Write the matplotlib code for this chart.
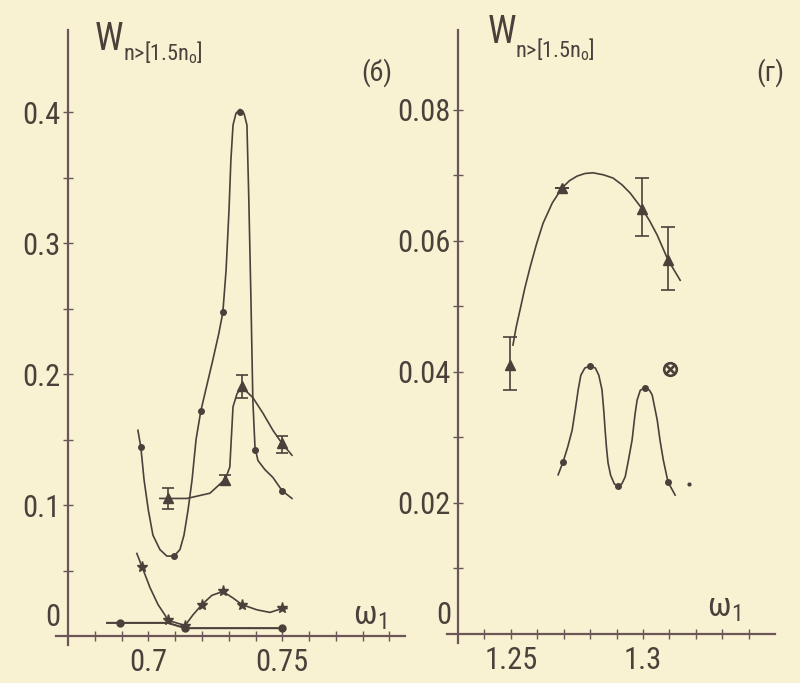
import matplotlib.pyplot as plt
import numpy as np

# panel (б): curves, omega_1 vs W
peak_w = [0.6961, 0.6972, 0.6984, 0.7000, 0.7017, 0.7043, 0.7069, 0.7096, 0.7118, 0.7133,
          0.7148, 0.7163, 0.7178, 0.7196, 0.7219, 0.7241, 0.7263, 0.7278, 0.7290, 0.7301,
          0.7308, 0.7316, 0.7327, 0.7342, 0.7357, 0.7368, 0.7375, 0.7383, 0.7390, 0.7398,
          0.7409, 0.7435, 0.7465, 0.7499, 0.7536]
peak_W = [0.157, 0.144, 0.119, 0.096, 0.077, 0.066, 0.061, 0.061, 0.066, 0.077,
          0.096, 0.119, 0.150, 0.172, 0.192, 0.211, 0.231, 0.247, 0.279, 0.325,
          0.363, 0.390, 0.399, 0.402, 0.399, 0.390, 0.333, 0.256, 0.180, 0.144,
          0.134, 0.127, 0.121, 0.111, 0.105]
peak_pts_w = [0.6972, 0.7096, 0.7196, 0.7278, 0.7342, 0.7398, 0.7499]
peak_pts_W = [0.144, 0.061, 0.172, 0.247, 0.400, 0.142, 0.111]

tri_w = [0.7043, 0.7073, 0.7144, 0.7230, 0.7278, 0.7286, 0.7304, 0.7316, 0.7331, 0.7349,
         0.7390, 0.7428, 0.7465, 0.7499, 0.7536]
tri_W = [0.105, 0.105, 0.105, 0.109, 0.118, 0.119, 0.129, 0.175, 0.185, 0.190,
         0.182, 0.170, 0.157, 0.147, 0.138]
tri_pts_w = [0.7073, 0.7286, 0.7349, 0.7499]
tri_pts_W = [0.105, 0.119, 0.191, 0.147]
tri_lo = [0.097, 0.115, 0.182, 0.140]
tri_hi = [0.113, 0.123, 0.199, 0.153]

star_w = [0.6957, 0.6976, 0.7006, 0.7036, 0.7062, 0.7073, 0.7137, 0.7166, 0.7200, 0.7237,
          0.7278, 0.7316, 0.7349, 0.7405, 0.7454, 0.7499, 0.7517]
star_W = [0.063, 0.053, 0.037, 0.024, 0.016, 0.012, 0.008, 0.016, 0.024, 0.031,
          0.034, 0.029, 0.024, 0.020, 0.018, 0.021, 0.021]
star_pts_w = [0.6976, 0.7073, 0.7137, 0.7200, 0.7278, 0.7349, 0.7499]
star_pts_W = [0.053, 0.012, 0.008, 0.024, 0.034, 0.024, 0.021]

low_w = [0.6846, 0.6894, 0.7073, 0.7137, 0.7499]
low_W = [0.010, 0.010, 0.010, 0.006, 0.006]
low_pts_w = [0.6894, 0.7137, 0.7499]
low_pts_W = [0.010, 0.006, 0.006]

# panel (г)
up_w = [1.2508, 1.2520, 1.2535, 1.2553, 1.2573, 1.2597, 1.2622, 1.2657, 1.2694, 1.2722,
        1.2751, 1.2781, 1.2811, 1.2850, 1.2887, 1.2920, 1.2952, 1.2997, 1.3025, 1.3054,
        1.3095, 1.3141]
up_W = [0.0441, 0.0468, 0.0495, 0.0528, 0.0560, 0.0595, 0.0627, 0.0658, 0.0681, 0.0692,
        0.0699, 0.0703, 0.0704, 0.0701, 0.0696, 0.0686, 0.0673, 0.0649, 0.0631, 0.0609,
        0.0571, 0.0540]
up_pts_w = [1.2497, 1.2694, 1.2997, 1.3095]
up_pts_W = [0.0410, 0.0681, 0.0649, 0.0571]
up_lo = [0.0373, 0.0681, 0.0608, 0.0525]
up_hi = [0.0453, 0.0681, 0.0696, 0.0621]

dbl_w = [1.2679, 1.2698, 1.2715, 1.2732, 1.2745, 1.2755, 1.2765, 1.2780, 1.2800, 1.2820,
         1.2833, 1.2845, 1.2852, 1.2857, 1.2862, 1.2868, 1.2878, 1.2892, 1.2906, 1.2920,
         1.2933, 1.2945, 1.2959, 1.2970, 1.2978, 1.2990, 1.3008, 1.3025, 1.3035, 1.3045,
         1.3054, 1.3065, 1.3077, 1.3095, 1.3122]
dbl_W = [0.0243, 0.0263, 0.0285, 0.0311, 0.0345, 0.0373, 0.0395, 0.0406, 0.0409, 0.0406,
         0.0395, 0.0373, 0.0340, 0.0311, 0.0285, 0.0261, 0.0242, 0.0229, 0.0226, 0.0229,
         0.0240, 0.0265, 0.0296, 0.0335, 0.0357, 0.0372, 0.0376, 0.0372, 0.0365, 0.0345,
         0.0327, 0.0295, 0.0266, 0.0232, 0.0212]
dbl_pts_w = [1.2698, 1.2800, 1.2906, 1.3008, 1.3095]
dbl_pts_W = [0.0263, 0.0409, 0.0226, 0.0376, 0.0232]
extra_dot = (1.3175, 0.0229)
circ_pt = (1.3103, 0.0405)

bg = '#f8f1d2'
ink = '#4a413b'
axcol = '#6a5656'
plt.rcParams['font.family'] = ['Roboto Condensed', 'DejaVu Sans']
plt.rcParams['mathtext.default'] = 'regular'

fig = plt.figure(figsize=(8, 6.83), dpi=100, facecolor=bg)
W, H = 800, 683


def make_axes(x0, x1, y0, y1):
    ax = fig.add_axes([x0 / W, 1 - y0 / H, (x1 - x0) / W, (y0 - y1) / H])
    ax.set_facecolor(bg)
    for s in ax.spines.values():
        s.set_visible(False)
    # axis lines slightly overshooting the origin, as drawn by hand
    ax.plot([-0.035, 1], [0, 0], transform=ax.transAxes, color=axcol, lw=1.6, clip_on=False)
    ax.plot([0, 0], [-0.015, 1], transform=ax.transAxes, color=axcol, lw=1.6, clip_on=False)
    ax.tick_params(which='both', direction='inout', length=7, width=1.0, color=axcol,
                   labelsize=22, labelcolor=ink)
    ax.tick_params(axis='x', pad=5)
    ax.tick_params(axis='y', pad=2)
    return ax


# ---- panel (б)
ax1 = make_axes(68, 405, 636, 30)
ax1.set_xlim(0.67, 0.7958)
ax1.set_ylim(0, 0.4626)
ax1.set_xticks([0.70, 0.75], ['0.7', '0.75'])
ax1.set_xticks(np.arange(0.68, 0.795, 0.01), minor=True)
ax1.set_yticks([0.1, 0.2, 0.3, 0.4], ['0.1', '0.2', '0.3', '0.4'])
ax1.set_yticks([0.05, 0.15, 0.25, 0.35], minor=True)

lw = 1.2
ax1.plot(peak_w, peak_W, color=ink, lw=lw)
ax1.plot(peak_pts_w, peak_pts_W, 'o', color=ink, ms=4)
ax1.plot(tri_w, tri_W, color=ink, lw=lw)
ax1.errorbar(tri_pts_w, tri_pts_W,
             yerr=[np.array(tri_pts_W) - np.array(tri_lo), np.array(tri_hi) - np.array(tri_pts_W)],
             fmt='^', color=ink, ms=7, capsize=4, elinewidth=1.2, capthick=1.2)
ax1.plot(star_w, star_W, color=ink, lw=lw)
ax1.plot(star_pts_w, star_pts_W, '*', color=ink, ms=8)
ax1.plot(low_w, low_W, color=ink, lw=1.5)
ax1.plot(low_pts_w, low_pts_W, 'o', color=ink, ms=5)

fig.text(95 / W, 1 - 50 / H, 'W', fontsize=27, color=ink, ha='left', va='baseline')
fig.text(123 / W, 1 - 60 / H, r'n>[1.5n$_o$]', fontsize=16, color=ink,
         ha='left', va='baseline')
fig.text(377 / W, 1 - 73 / H, '(б)', fontsize=20, color=ink, ha='center', va='center')
fig.text(370 / W, 1 - 616 / H, r'$\omega_1$', fontsize=24, color=ink, ha='center', va='center')
fig.text(53 / W, 1 - 617 / H, '0', fontsize=22, color=ink, ha='center', va='center')

# ---- panel (г)
ax2 = make_axes(458, 775, 634, 30)
ax2.set_xlim(1.23, 1.350)
ax2.set_ylim(0, 0.0922)
ax2.set_xticks([1.25, 1.30], ['1.25', '1.3'])
ax2.set_xticks(np.arange(1.24, 1.345, 0.01), minor=True)
ax2.set_yticks([0.02, 0.04, 0.06, 0.08], ['0.02', '0.04', '0.06', '0.08'])
ax2.set_yticks([0.01, 0.03, 0.05, 0.07], minor=True)

ax2.plot(up_w, up_W, color=ink, lw=lw)
ax2.errorbar(up_pts_w, up_pts_W,
             yerr=[np.array(up_pts_W) - np.array(up_lo), np.array(up_hi) - np.array(up_pts_W)],
             fmt='^', color=ink, ms=7, capsize=5, elinewidth=1.2, capthick=1.2)
ax2.plot(dbl_w, dbl_W, color=ink, lw=lw)
ax2.plot(dbl_pts_w, dbl_pts_W, 'o', color=ink, ms=4)
ax2.plot(*extra_dot, 'o', color=ink, ms=2)
ax2.plot(*circ_pt, marker=r'$\otimes$', color=ink, ms=10)

fig.text(488 / W, 1 - 43 / H, 'W', fontsize=27, color=ink, ha='left', va='baseline')
fig.text(515 / W, 1 - 57 / H, r'n>[1.5n$_o$]', fontsize=16, color=ink,
         ha='left', va='baseline')
fig.text(770 / W, 1 - 73 / H, '(г)', fontsize=20, color=ink, ha='center', va='center')
fig.text(724 / W, 1 - 608 / H, r'$\omega_1$', fontsize=24, color=ink, ha='center', va='center')
fig.text(444 / W, 1 - 615 / H, '0', fontsize=22, color=ink, ha='center', va='center')

fig.savefig('out.png', dpi=100, facecolor=bg)
